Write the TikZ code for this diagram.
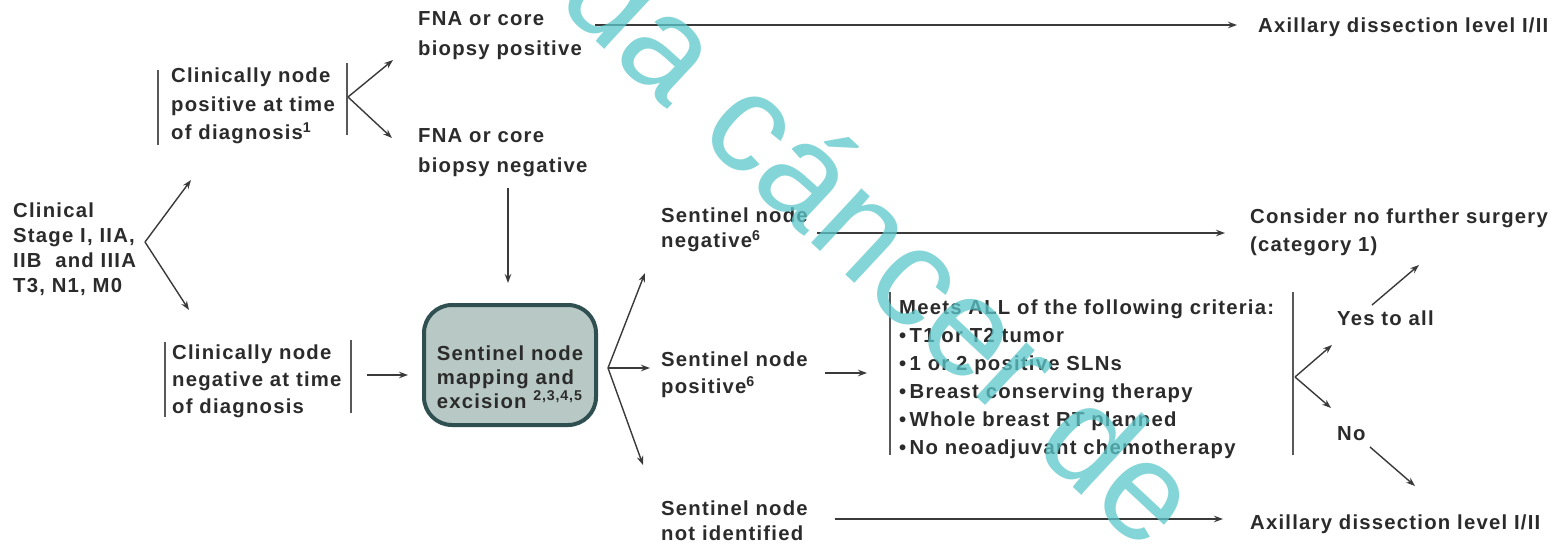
\documentclass[tikz,border=0pt]{standalone}
\usepackage{fontspec}
\setmainfont{Liberation Sans}[LetterSpace=6]
\newfontfamily\wmfont{Liberation Sans}
\usetikzlibrary{arrows.meta}
\definecolor{tc}{HTML}{2B2B2B}
\definecolor{lc}{HTML}{3A3A3A}
\definecolor{boxfill}{HTML}{B8C8C4}
\definecolor{boxline}{HTML}{2F4F51}
\definecolor{wm}{HTML}{5CC8CB}
\begin{document}
\begin{tikzpicture}[x=1pt,y=-1pt]
\tikzset{
 txt/.style={inner sep=0pt, align=left, anchor=west, text=tc, font=\bfseries\fontsize{20.3}{27}\selectfont},
 sk/.style={font=\bfseries\fontsize{20.3}{#1}\selectfont},
 arr/.style={draw=lc, line width=1.4pt, -{Stealth[length=9pt,width=6.5pt]}},
 bar/.style={draw=lc!85, line width=1.2pt},
 sbox/.style={draw=boxline, line width=4pt, fill=boxfill, rounded corners=28pt, minimum width=172pt, minimum height=120pt, inner sep=0pt, text height=87pt, align=left, text=tc, font=\bfseries\fontsize{20.3}{24}\selectfont},
 wmark/.style={text=wm, text opacity=0.75, font=\wmfont\fontsize{140}{140}\selectfont, inner sep=0pt}
}
\useasboundingbox[fill=white] (0,0) rectangle (1566,549);

% nodes
\node[txt, sk=25] (stage) at (13,249) {Clinical\\Stage I, IIA,\\IIB\ \ and IIIA\\T3, N1, M0};
\node[txt, sk=28.5] (cpos) at (171,106) {Clinically node\\positive at time\\of diagnosis\textsuperscript{1}};
\node[txt, sk=30] (fnapos) at (418,36) {FNA or core\\biopsy positive};
\node[txt, sk=30] (fnaneg) at (418,153) {FNA or core\\biopsy negative};
\node[txt] (axtop) at (1258,27) {Axillary dissection level I/II};
\node[txt, sk=27] (cneg) at (172,381) {Clinically node\\negative at time\\of diagnosis};
\node[sbox] (box) at (510,365) {Sentinel node\\mapping and\\excision \textsuperscript{2,3,4,5}};
\node[txt, sk=25] (snneg) at (661,230) {Sentinel node\\negative\textsuperscript{6}};
\node[txt, sk=27] (snpos) at (661,375) {Sentinel node\\positive\textsuperscript{6}};
\node[txt, sk=25] (snni) at (661,521) {Sentinel node\\not identified};
\node[txt, sk=28] (crit) at (899,379) {Meets ALL of the following criteria:\\\textbullet\,T1 or T2 tumor\\\textbullet\,1 or 2 positive SLNs\\\textbullet\,Breast conserving therapy\\\textbullet\,Whole breast RT planned\\\textbullet\,No neoadjuvant chemotherapy};
\node[txt, sk=28] (consider) at (1250,232) {Consider no further surgery\\(category 1)};
\node[txt] (yes) at (1337,318) {Yes to all};
\node[txt] (no) at (1337,434) {No};
\node[txt] (axbot) at (1250,524) {Axillary dissection level I/II};

% bracket bars
\draw[bar] (158,70) -- (158,145);
\draw[bar] (347,63) -- (347,135);
\draw[bar] (165,342) -- (165,417);
\draw[bar] (351,340) -- (351,413);
\draw[bar] (890,292) -- (890,455);
\draw[bar] (1293,292) -- (1293,455);

% connector points
\coordinate (s0) at (145,242);
\coordinate (s1) at (191,180);
\coordinate (s2) at (189,310);
\coordinate (p0) at (348,97);
\coordinate (p1) at (393,60);
\coordinate (p2) at (392,138);
\coordinate (t0) at (595,25);
\coordinate (t1) at (1237,25);
\coordinate (v0) at (508,188);
\coordinate (v1) at (508,283);
\coordinate (n0) at (367,375);
\coordinate (n1) at (408,375);
\coordinate (b0) at (608,368);
\coordinate (b1) at (645,273);
\coordinate (b2) at (650,368);
\coordinate (b3) at (643,465);
\coordinate (g0) at (817,233);
\coordinate (g1) at (1225,233);
\coordinate (q0) at (825,373);
\coordinate (q1) at (867,373);
\coordinate (c0) at (1295,377);
\coordinate (c1) at (1332,345);
\coordinate (c2) at (1331,408);
\coordinate (y0) at (1372,305);
\coordinate (y1) at (1419,265);
\coordinate (z0) at (1370,447);
\coordinate (z1) at (1415,486);
\coordinate (u0) at (835,519);
\coordinate (u1) at (1223,519);

% connectors
\draw[arr] (s0) -- (s1);
\draw[arr] (s0) -- (s2);
\draw[arr] (p0) -- (p1);
\draw[arr] (p0) -- (p2);
\draw[arr] (t0) -- (t1);
\draw[arr] (v0) -- (v1);
\draw[arr] (n0) -- (n1);
\draw[arr] (b0) -- (b1);
\draw[arr] (b0) -- (b2);
\draw[arr] (b0) -- (b3);
\draw[arr] (g0) -- (g1);
\draw[arr] (q0) -- (q1);
\draw[arr] (c0) -- (c1);
\draw[arr] (c0) -- (c2);
\draw[arr] (y0) -- (y1);
\draw[arr] (z0) -- (z1);
\draw[arr] (u0) -- (u1);

% watermark
\node[wmark, rotate=-43, anchor=base] (wmk) at (850,279) {da cáncer de};
\end{tikzpicture}
\end{document}
